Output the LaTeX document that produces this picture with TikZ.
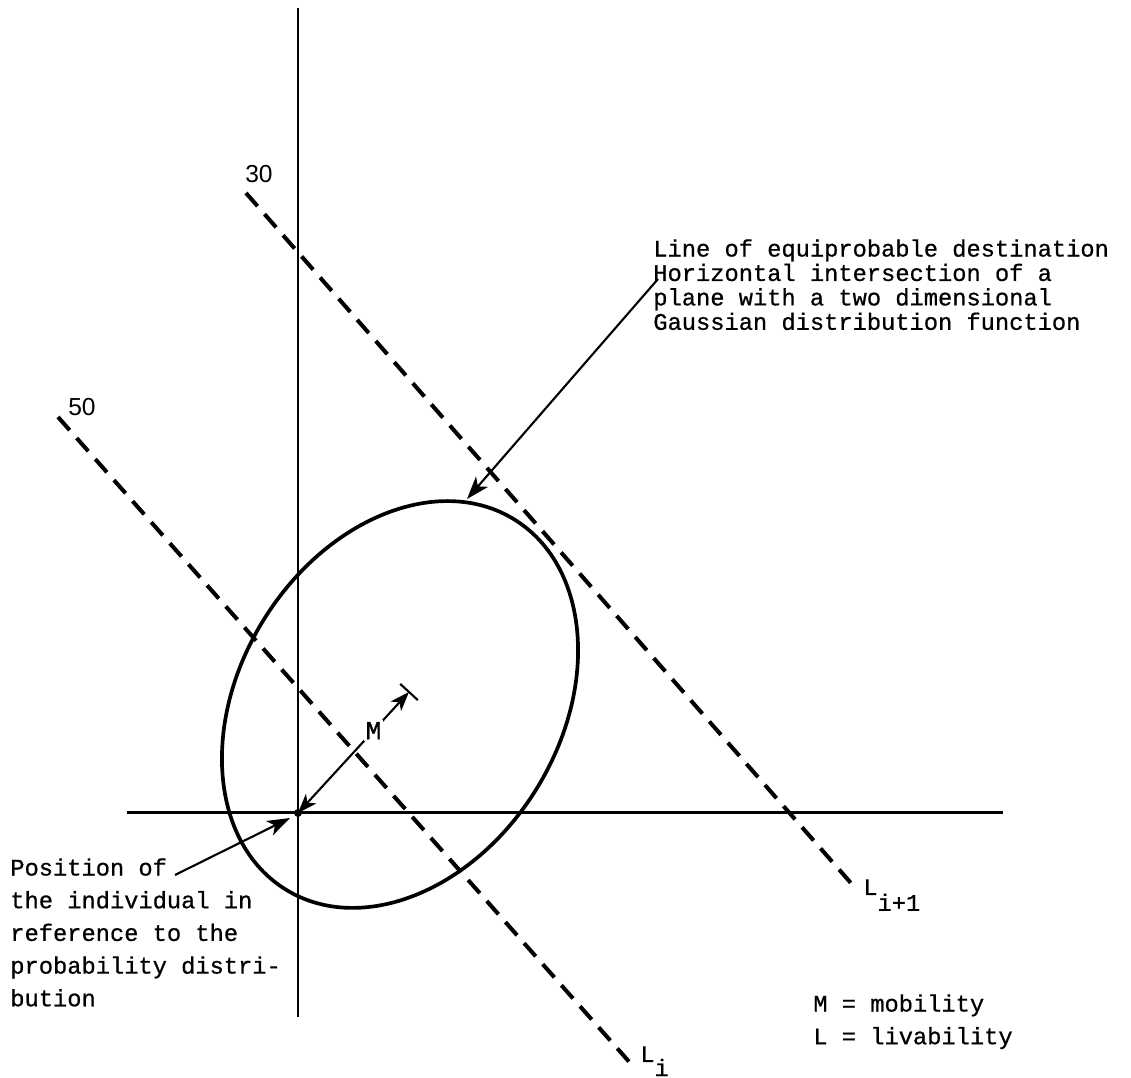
\documentclass[tikz,border=0pt]{standalone}
\usepackage{fontspec}
\setmainfont{Liberation Mono}[FakeBold=0.7]
\setsansfont{Liberation Sans}
\usetikzlibrary{arrows.meta,positioning,calc}

\begin{document}
\begin{tikzpicture}[
  >=Stealth,
  every node/.style={align=left},
  axisln/.style  = {line width=1.7pt},
  levelln/.style = {line width=2.3pt, dash pattern=on 10pt off 6pt},
  curveln/.style = {line width=2.1pt},
  leadln/.style  = {line width=1.2pt, -{Stealth[length=13pt, width=9pt, inset=3.5pt]}},
  mobln/.style   = {line width=1.2pt,
                    {Stealth[length=11pt, width=8pt, inset=3pt]}-{Stealth[length=11pt, width=8pt, inset=3pt]}},
  note/.style    = {inner sep=0pt, anchor=north west, font=\fontsize{13.5}{13.9}\selectfont},
  wnote/.style   = {inner sep=0pt, anchor=north west, font=\fontsize{13.5}{18.6}\selectfont},
  lvl/.style     = {inner sep=0pt, anchor=base west, font=\fontsize{13.5}{16}\selectfont},
  num/.style     = {inner sep=0pt, font=\sffamily\fontsize{14}{16}\selectfont}
]
\useasboundingbox (0,0) rectangle (22.62,21.56);

\coordinate (yTop) at (5.96, 21.40);
\coordinate (yBot) at (5.96, 1.22);
\coordinate (xLeft) at (2.54, 5.30);
\coordinate (xRight) at (20.06, 5.30);
\coordinate (orig) at (5.96, 5.30);
\draw[axisln] (yTop) -- (yBot);
\draw[axisln] (xLeft) -- (xRight);
\fill (orig) circle (0.08);

\coordinate (l30a) at (4.92, 17.70);
\coordinate (l30b) at (17.14, 3.76);
\coordinate (l50a) at (1.16, 13.22);
\coordinate (l50b) at (12.64, 0.26);
\draw[levelln] (l30a) -- (l30b);
\draw[levelln] (l50a) -- (l50b);
\node[num] (lab30) at (5.18, 18.08) {30};
\node[num] (lab50) at (1.64, 13.42) {50};
\node[lvl] (lii) at (17.26, 3.66) {L\raisebox{-9pt}{i+1}};
\node[lvl] (li) at (12.80, 0.32) {L\raisebox{-8pt}{i}};

\coordinate (ctr) at (8.00, 7.47);
\draw[curveln, rotate around={58.3:(ctr)}] (ctr) ellipse (4.35 and 3.21);

\coordinate (mtip) at (8.18, 7.72);
\draw[mobln] (orig) -- node[pos=0.68, fill=white, inner sep=1pt,
  font=\fontsize{15}{16}\selectfont] (mlab) {M} (mtip);
\draw[line width=1.2pt] ($(mtip)!0.24cm!90:(orig)$) -- ($(mtip)!0.24cm!-90:(orig)$);

\node[note] (eqnote) at (13.06, 16.78)
  {Line of equiprobable destination\\Horizontal intersection of a\\plane with a two dimensional\\Gaussian distribution function};
\coordinate (eqLead) at (13.16, 15.98);
\coordinate (eqTip) at (9.34, 11.58);
\draw[leadln] (eqLead) -- (eqTip);

\node[wnote] (posnote) at (0.20, 4.40)
  {Position of\\the individual in\\reference to the\\probability distri-\\bution};
\coordinate (posLead) at (3.50, 4.06);
\coordinate (posTip) at (5.80, 5.20);
\draw[leadln] (posLead) -- (posTip);

\node[wnote] (legend) at (16.26, 1.68) {M = mobility\\L = livability};
\end{tikzpicture}
\end{document}
